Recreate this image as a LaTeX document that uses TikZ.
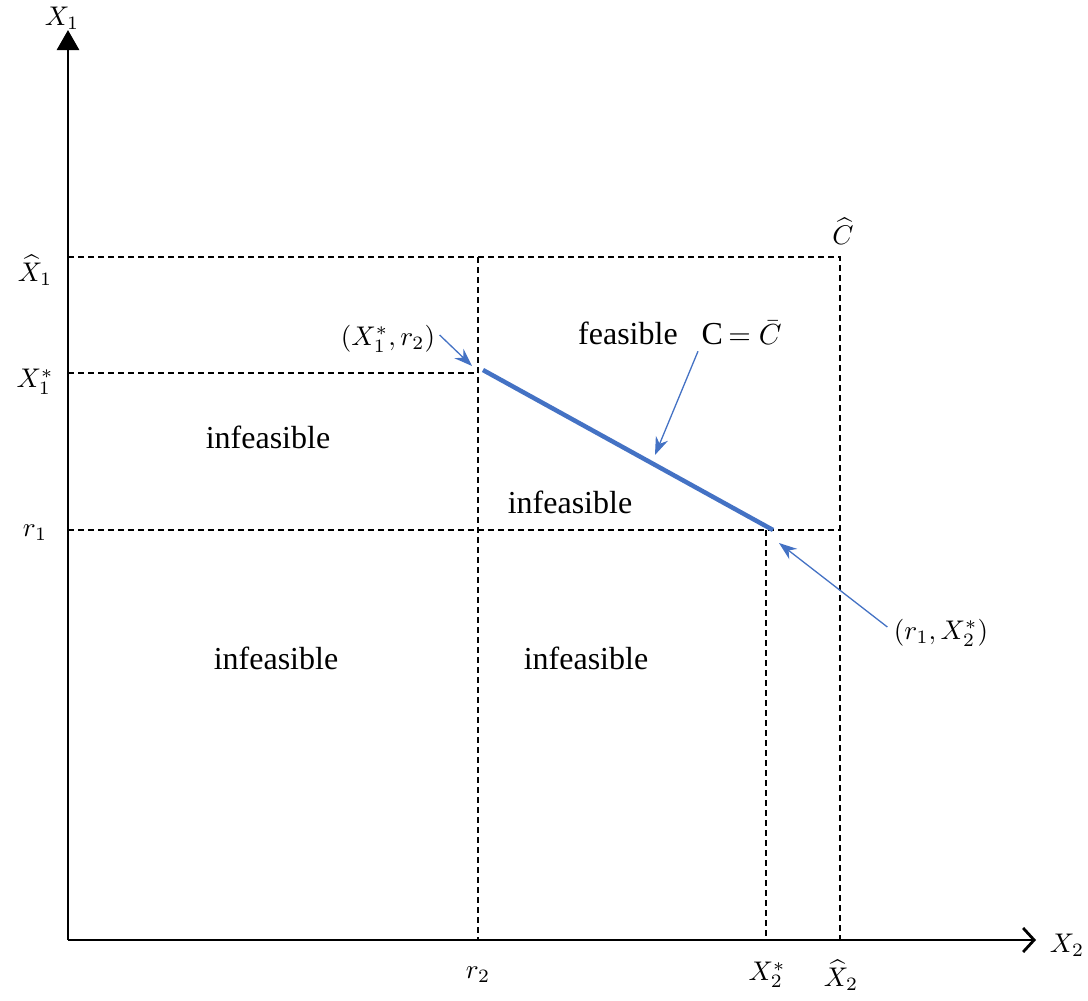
\documentclass[tikz,border=0pt]{standalone}
\usepackage{fontspec}
\setmainfont{Liberation Serif}
\usetikzlibrary{arrows.meta}
\definecolor{obl}{RGB}{68,114,196}
\begin{document}
\begin{tikzpicture}[x=1pt,y=-1pt,
  yaxis/.style={line width=2.8pt,-{Triangle[length=20pt,width=22pt]}},
  xaxis/.style={line width=2.8pt,-{Straight Barb[length=11pt,width=24pt,line width=2.8pt]}},
  guide/.style={line width=1.3pt,dash pattern=on 6pt off 4pt},
  lbl/.style={scale=2.7,inner sep=0pt},
  txt/.style={font=\fontsize{32}{38}\selectfont,inner sep=0pt},
  callout/.style={obl,line width=1.3pt,-{Stealth[length=18pt,width=13pt]}}]
\useasboundingbox (0,0) rectangle (1088,1001);
% points
\coordinate (O) at (68,940);
\coordinate (ytop) at (68,30);
\coordinate (xend) at (1036,940);
\coordinate (hx1l) at (68,257);
\coordinate (hc) at (840,257);
\coordinate (hx2b) at (840,940);
\coordinate (sx1l) at (68,373);
\coordinate (sx1r) at (478,373);
\coordinate (r2t) at (478,257);
\coordinate (r2b) at (478,940);
\coordinate (r1l) at (68,530);
\coordinate (r1r) at (840,530);
\coordinate (sx2t) at (766,530);
\coordinate (sx2b) at (766,940);
\coordinate (p1) at (483,370);
\coordinate (p2) at (773,530);
\coordinate (mid) at (655,455);
% guides
\draw[guide] (hx1l) -- (hc) -- (hx2b);
\draw[guide] (sx1l) -- (sx1r);
\draw[guide] (r2t) -- (r2b);
\draw[guide] (r1l) -- (r1r);
\draw[guide] (sx2t) -- (sx2b);
% axes
\draw[yaxis] (O) -- (ytop);
\draw[xaxis] (O) -- (xend);
% feasible line
\draw[obl,line width=4.5pt] (p1) -- (p2);
% axis labels
\node[lbl] (lx1) at (62,18) {$X_1$};
\node[lbl] (lx2) at (1067,945) {$X_2$};
\node[lbl] (lhx1) at (35,270) {$\widehat{X}_1$};
\node[lbl] (lsx1) at (35,382) {$X_1^*$};
\node[lbl] (lr1) at (35,533) {$r_1$};
\node[lbl] (lr2) at (478,975) {$r_2$};
\node[lbl] (lsx2) at (767,975) {$X_2^*$};
\node[lbl] (lhx2) at (841,975) {$\widehat{X}_2$};
\node[lbl] (lhc) at (843,231) {$\widehat{C}$};
% callouts
\node[lbl] (c1) at (388,339) {$(X_1^*,r_2)$};
\node[lbl] (c2) at (941,633) {$(r_1,X_2^*)$};
\node[txt] (feas) at (680,333) {feasible\enspace\ C\,\scalebox{2.9}{\normalsize$=\bar{C}$}};
\draw[callout] (c1.east) ++(4,-4) coordinate (c1s) -- (472,366);
\draw[callout] (feas.south) ++(18,6) coordinate (fs) -- (mid);
\draw[callout] (c2.west) ++(-6,-6) coordinate (c2s) -- (779,543);
% regions
\node[txt] (i1) at (268,437) {infeasible};
\node[txt] (i2) at (570,502) {infeasible};
\node[txt] (i3) at (276,658) {infeasible};
\node[txt] (i4) at (586,658) {infeasible};
\end{tikzpicture}
\end{document}
